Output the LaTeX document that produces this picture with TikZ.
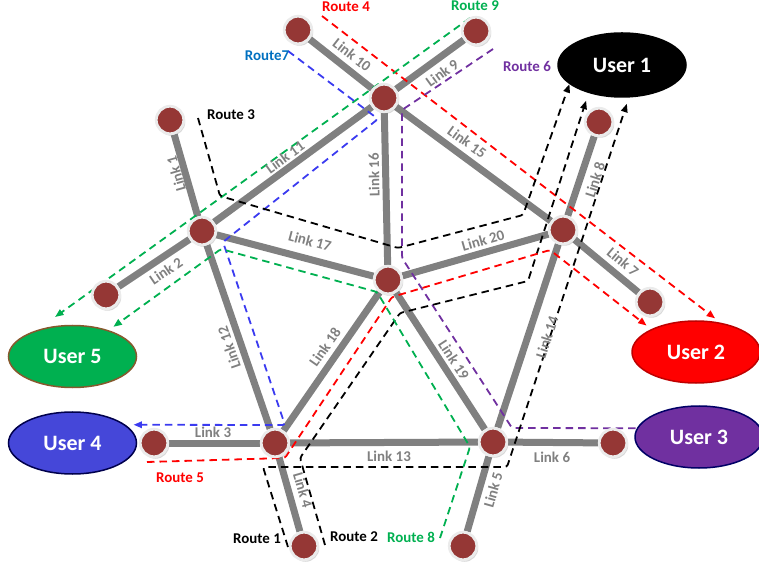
\documentclass[tikz,border=0pt]{standalone}
\usepackage{fontspec}
\setmainfont{Carlito}
\usetikzlibrary{positioning}
\usetikzlibrary{shapes.geometric}
\usetikzlibrary{arrows.meta}
\usetikzlibrary{shadows}
\usetikzlibrary{backgrounds}
\definecolor{hubred}{HTML}{953735}
\definecolor{linkgray}{HTML}{808080}
\definecolor{rred}{HTML}{FF0000}
\definecolor{rgreen}{HTML}{00B050}
\definecolor{rblue}{HTML}{3B3BF0}
\definecolor{rbluetxt}{HTML}{0070C0}
\definecolor{rpurple}{HTML}{7030A0}
\definecolor{ublue}{HTML}{4547D9}
\begin{document}
\begin{tikzpicture}[x=0.2mm,y=-0.2mm,
 hub/.style={circle,fill=hubred,draw=black!8,line width=0.55mm,minimum size=5.5mm,inner sep=0pt,
   drop shadow={shadow xshift=0.3mm,shadow yshift=-0.4mm,opacity=0.3}},
 link/.style={draw=linkgray,line width=1.4mm},
 linklabel/.style={text=linkgray,font=\fontsize{8.5}{10}\selectfont\bfseries,inner sep=0pt},
 route/.style={line width=0.36mm,dash pattern=on 1.5mm off 1mm,rounded corners=0.5mm},
 tip/.style={-{Triangle[length=1.7mm,width=1.3mm]}},
 routelabel/.style={font=\fontsize{8.5}{10}\selectfont\bfseries,inner sep=0pt},
 user/.style={ellipse,minimum width=25.6mm,minimum height=12.4mm,line width=0.3mm,text=white,
   font=\fontsize{12.5}{15}\selectfont\bfseries}]

\useasboundingbox (0,0) rectangle (759,567);

% hubs
\node[hub] (n10) at (298,30) {};
\node[hub] (n9) at (476,31) {};
\node[hub] (top) at (384,98) {};
\node[hub] (n1) at (170,120) {};
\node[hub] (n8) at (599,122) {};
\node[hub] (left) at (202,231) {};
\node[hub] (right) at (563,230) {};
\node[hub] (mid) at (388,280) {};
\node[hub] (n2) at (106,295) {};
\node[hub] (n7) at (650,302) {};
\node[hub] (n3) at (154,443) {};
\node[hub] (botL) at (275,443) {};
\node[hub] (botR) at (493,442) {};
\node[hub] (n6) at (613,443) {};
\node[hub] (n4) at (304,546) {};
\node[hub] (n5) at (463,546) {};

% users
\node[user,fill=black,draw=black,minimum height=12.8mm] (u1) at (622,65) {User 1};
\node[user,fill=rred,draw=red!75!black] (u2) at (696,352) {User 2};
\node[user,fill=rpurple,draw=blue!40!black] (u3) at (699,437) {User 3};
\node[user,fill=ublue,draw=blue!30!black] (u4) at (72.5,443) {User 4};
\node[user,fill=rgreen,draw=brown!70!black] (u5) at (72.5,356.5) {User 5};

\begin{scope}[on background layer]
\draw[link] (n1) -- (left);
\draw[link] (n2) -- (left);
\draw[link] (n3) -- (botL);
\draw[link] (botL) -- (n4);
\draw[link] (botR) -- (n5);
\draw[link] (botR) -- (n6);
\draw[link] (right) -- (n7);
\draw[link] (right) -- (n8);
\draw[link] (top) -- (n9);
\draw[link] (n10) -- (top);
\draw[link] (top) -- (left);
\draw[link] (left) -- (botL);
\draw[link] (botL) -- (botR);
\draw[link] (botR) -- (right);
\draw[link] (top) -- (right);
\draw[link] (top) -- (mid);
\draw[link] (left) -- (mid);
\draw[link] (mid) -- (botL);
\draw[link] (mid) -- (botR);
\draw[link] (mid) -- (right);

% routes
\draw[route,rred,tip,shorten >=1.4mm] (322,16) -- (u2.50);
\draw[route,rgreen,tip,shorten >=4.4mm] (470,18) -- (u5.143);
\draw[route,rblue,tip,shorten >=1.6mm] (288,51) -- (378,119) -- (223,242) -- (285,425) -- (u4.19);
\draw[route,rpurple] (493,49) -- (402,110) -- (402,258) -- (512,428) -- (u3.172);
\draw[route,black,tip] (198,118) -- (220,196) -- (398,248) -- (523,215) -- (u1.200);
\draw[route,black,tip,shorten >=1.6mm] (325,545) -- (300,458) -- (400,313) -- (528,281) -- (u1.220);
\draw[route,black,tip,shorten >=1.3mm] (288,547) -- (263,467) -- (507,467) -- (u1.282);
\draw[route,rred,tip,shorten >=1.15mm] (147,462) -- (285,458) -- (392,297) -- (550,250) -- (u2.153);
\draw[route,rgreen,tip,shorten >=1.15mm] (440,538) -- (470,447) -- (377,292) -- (221,249) -- (u5.36);
\end{scope}

% route labels
\node[routelabel,rred] (r4) at (346,7) {Route 4};
\node[routelabel,rgreen] (r9) at (475,6) {Route 9};
\node[routelabel,rbluetxt] (r7) at (267,56) {Route7};
\node[routelabel,rpurple] (r6) at (527,66) {Route 6};
\node[routelabel] (r3) at (231,115) {Route 3};
\node[routelabel,rred] (r5) at (180,478) {Route 5};
\node[routelabel] (r1) at (257,539) {Route 1};
\node[routelabel] (r2) at (354,537) {Route 2};
\node[routelabel,rgreen] (r8) at (411,537) {Route 8};

% link labels
\node[linklabel,rotate=106] (l1) at (176,174) {Link 1};
\node[linklabel,rotate=34] (l2) at (166,271) {Link 2};
\node[linklabel] (l3) at (213,432) {Link 3};
\node[linklabel,rotate=-74] (l4) at (303,490) {Link 4};
\node[linklabel,rotate=74] (l5) at (493,490) {Link 5};
\node[linklabel] (l6) at (552,457) {Link 6};
\node[linklabel,rotate=-40] (l7) at (623,262) {Link 7};
\node[linklabel,rotate=72] (l8) at (595,180) {Link 8};
\node[linklabel,rotate=36] (l9) at (442,73) {Link 9};
\node[linklabel,rotate=-38] (l10) at (352,55) {Link 10};
\node[linklabel,rotate=36] (l11) at (285,157) {Link 11};
\node[linklabel,rotate=109] (l12) at (229,348) {Link 12};
\node[linklabel] (l13) at (389,456) {Link 13};
\node[linklabel,rotate=72] (l14) at (547,337) {Link 14};
\node[linklabel,rotate=-36] (l15) at (467,142) {Link 15};
\node[linklabel,rotate=91] (l16) at (374,175) {Link 16};
\node[linklabel,rotate=-15] (l17) at (310,241) {Link 17};
\node[linklabel,rotate=55] (l18) at (325,347) {Link 18};
\node[linklabel,rotate=-57] (l19) at (454,360) {Link 19};
\node[linklabel,rotate=16] (l20) at (483,240) {Link 20};

\end{tikzpicture}
\end{document}
